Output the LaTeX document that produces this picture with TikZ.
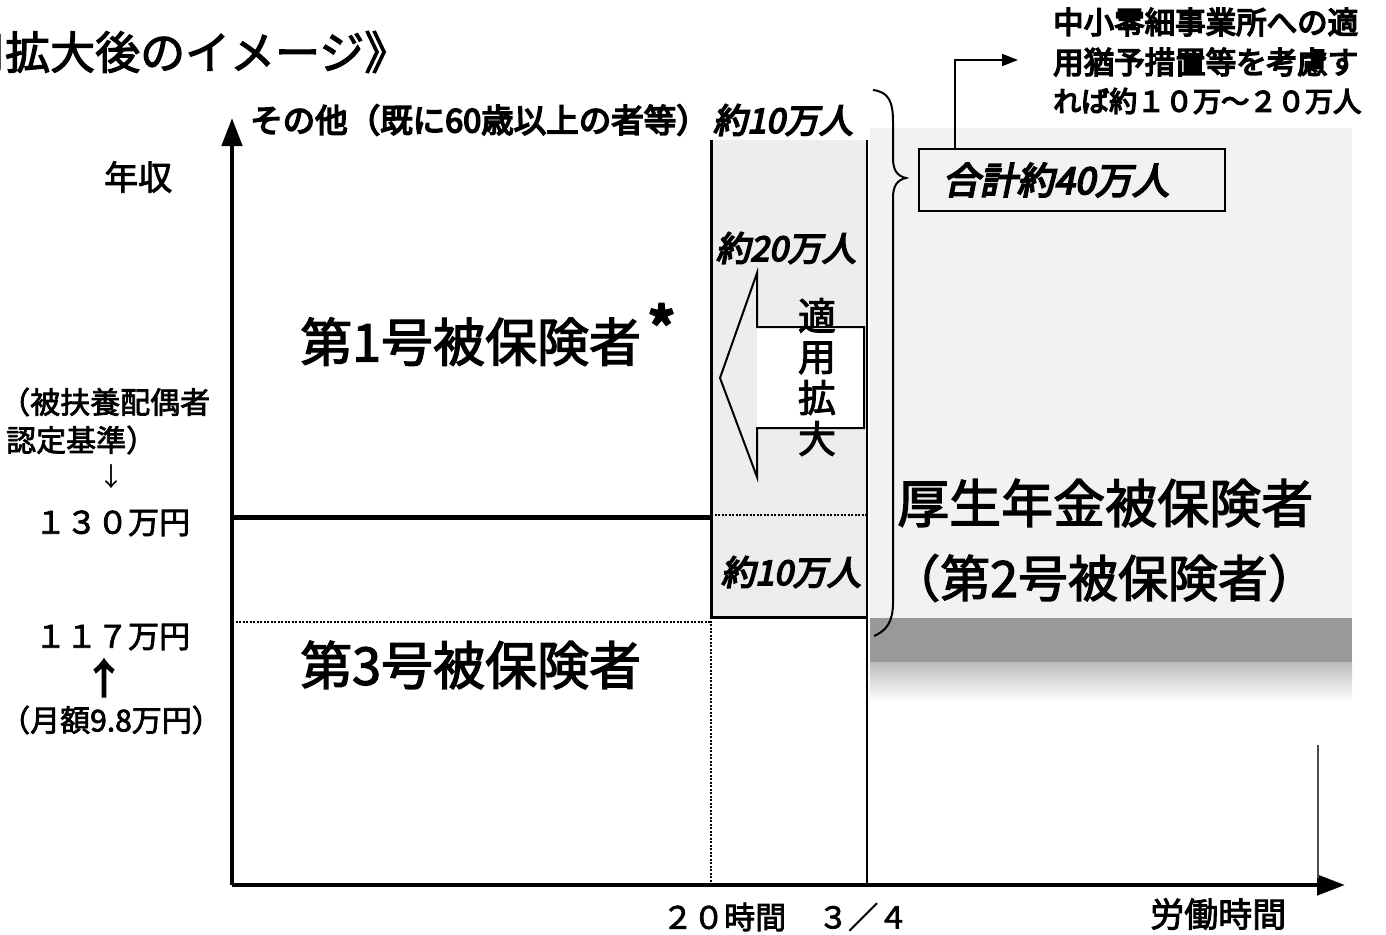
\documentclass[tikz,border=0pt]{standalone}
\usepackage{fontspec}
\usetikzlibrary{arrows.meta}
\newfontfamily\jp{Noto Sans CJK JP}
\newfontfamily\jpm[FakeBold=2.5]{Noto Sans CJK JP}
\newfontfamily\jpb[FakeBold=5]{Noto Sans CJK JP}
\newfontfamily\jpbi[FakeBold=5,FakeSlant=0.2]{Noto Sans CJK JP}
\newcommand\fsz[1]{\fontsize{#1}{#1}\selectfont}
\begin{document}
\begin{tikzpicture}[x=1pt,y=-1pt,
  txt/.style={inner sep=0pt, anchor=west, font={\jp\fsz{#1}}},
  mtxt/.style={inner sep=0pt, anchor=west, font={\jpm\fsz{#1}}},
  btxt/.style={inner sep=0pt, anchor=west, font={\jpb\fsz{#1}}},
  itxt/.style={inner sep=0pt, anchor=center, font={\jpbi\fsz{#1}}},
  axisline/.style={line width=4.5pt, -{Triangle[width=20pt,length=28pt]}},
  heavy/.style={line width=5pt},
  border/.style={line width=3pt},
  dotline/.style={line width=1.3pt, dash pattern=on 2pt off 1.5pt},
  stipple/.style={fill=black!7},
]
\useasboundingbox (0,0) rectangle (1386,934);
\clip (0,0) rectangle (1386,934);

% stippled backgrounds
\fill[stipple] (711,140) rectangle (867,617);
\fill[black!5] (870,128) rectangle (1352,618);
\fill[black!40] (870,618) rectangle (1352,662);
\shade[top color=black!26, bottom color=white] (870,662) rectangle (1352,702);

% coordinates
\coordinate (O) at (232,885);
\coordinate (Ytop) at (232,118);
\coordinate (Xend) at (1345,885);
\coordinate (c130) at (232,517);
\coordinate (c117) at (232,622);
\coordinate (h20t) at (711,140);
\coordinate (h20m) at (711,617);
\coordinate (h20b) at (711,885);
\coordinate (h34t) at (867,140);
\coordinate (h34b) at (867,885);
\coordinate (rt) at (1318,745);
\coordinate (rb) at (1318,878);

% axes
\draw[axisline] (O) -- (Ytop);
\draw[axisline] (O) -- (Xend);

% horizontal levels
\draw[heavy] (c130) -- (c130 -| h20t);
\draw[dotline] (c117) -- (c117 -| h20t);
\draw[dotline] (711,515) -- (867,515);

% column
\draw[border] (h20t) -- (h20m);
\draw[border] (h20m) -- (h20m -| h34t);
\draw[dotline] (h20m) -- (h20b);
\draw[line width=2.6pt] (h34t) -- (h34b);
\draw[line width=1.6pt, black!70] (rt) -- (rb);

% block arrow
\fill[white] (757,327) rectangle (864,428);
\draw[line width=2pt, line join=miter] (757,327) -- (757,273) -- (720,378) -- (757,477) -- (757,428) -- (864,428) -- (864,327) -- cycle;
\node[inner sep=0pt, align=center, font={\jpm\fontsize{38}{41}\selectfont}] (tekiyo) at (817,377) {適\\用\\拡\\大};

% brace
\draw[line width=2pt] (873,90) .. controls (889,92) and (893,102) .. (893,122) -- (893,158) .. controls (893,170) and (897,176) .. (906,178) .. controls (897,180) and (893,186) .. (893,198) -- (893,603) .. controls (893,622) and (886,631) .. (874,636);

% total box and note
\node[draw, line width=2pt, minimum width=306pt, minimum height=62pt, anchor=north west, inner xsep=24pt, text width=258pt, align=left, font={\jpbi\fsz{37}}] (tot) at (918,148) {合計約40万人};
\coordinate (elb) at (955,60);
\coordinate (notetip) at (1018,60);
\draw[line width=2pt, -{Triangle[width=12pt,length=16pt]}] (tot.north -| elb) |- (notetip);
\node[btxt=30.5] (n1) at (1053,22) {中小零細事業所への適};
\node[btxt=30.5] (n2) at (1053,62) {用猶予措置等を考慮す};
\node[btxt=28] (n3) at (1053,101) {れば約１０万～２０万人};

% title
\node[mtxt=45] (title) at (-40,52) {用拡大後のイメージ》};

% top labels
\node[btxt=32.5] (sonota) at (250,120) {その他（既に60歳以上の者等）};
\node[itxt=34] (p10a) at (783,120) {約10万人};
\node[itxt=34] (p20) at (786,248) {約20万人};
\node[itxt=34] (p10b) at (791,572) {約10万人};

% region labels
\node[mtxt=52] (dai1) at (300,335) {第1号被保険者\hspace{6pt}\raisebox{8pt}{\jpb\fsz{62}*}};
\node[mtxt=52] (dai3) at (300,665) {第3号被保険者};
\node[mtxt=52] (kosei) at (897,503) {厚生年金被保険者};
\node[mtxt=50] (dai2) at (890,578) {（第2号被保険者）};

% y-axis labels
\node[mtxt=34] (nenshu) at (104,177) {年収};
\node[mtxt=30] (hifu1) at (0,402) {（被扶養配偶者};
\node[mtxt=30] (hifu2) at (6,440) {認定基準）};
\node[txt=26, anchor=center] (darr) at (111,477) {↓};
\node[mtxt=31] (y130) at (35,523) {１３０万円};
\node[mtxt=31] (y117) at (35,637) {１１７万円};
\node[btxt=40, anchor=center] (uarr) at (104,678) {↑};
\node[mtxt=30] (getsu) at (0,720) {（月額9.8万円）};

% x-axis labels
\node[mtxt=31] (h20) at (662,917) {２０時間};
\node[mtxt=30] (h34) at (818,917) {３／４};
\node[mtxt=34] (rodo) at (1150,914) {労働時間};
\end{tikzpicture}
\end{document}
